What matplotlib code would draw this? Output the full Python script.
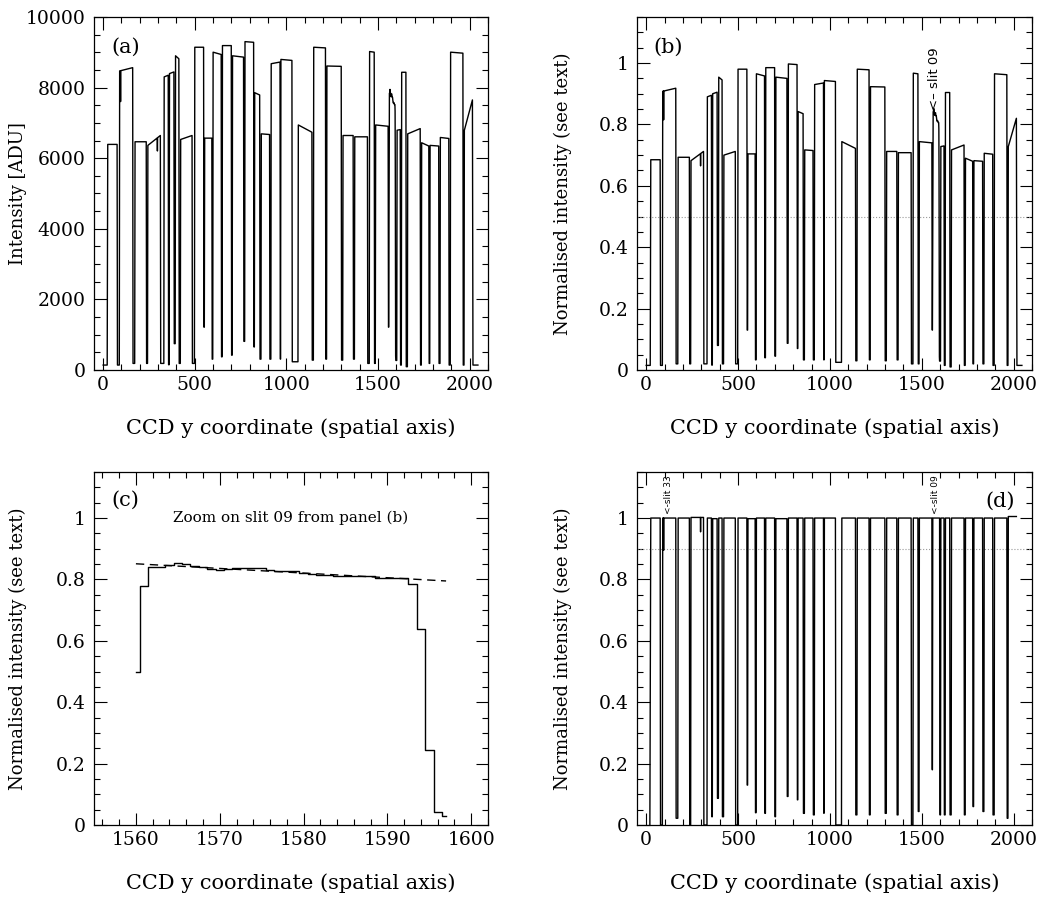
import matplotlib as mpl
mpl.use('Agg')
import numpy as np
import matplotlib.pyplot as plt
from matplotlib.ticker import MultipleLocator, FuncFormatter

plt.rcParams['font.family'] = 'DejaVu Serif'
plt.rcParams['axes.linewidth'] = 0.9

# slit plateaus along the CCD y axis: pixel edges and normalised levels
slit_lo = [25, 90, 174, 244, 333, 362, 395, 423, 500, 554, 600, 651, 706, 774, 827, 863, 917,
           970, 1065, 1149, 1221, 1309, 1373, 1454, 1487, 1560, 1604, 1629, 1662, 1738, 1784,
           1840, 1896, 1971]
slit_hi = [76, 161, 235, 312, 355, 386, 413, 485, 548, 593, 644, 699, 766, 821, 854, 908, 965,
           1030, 1139, 1213, 1299, 1364, 1442, 1479, 1555, 1597, 1621, 1652, 1730, 1777, 1831,
           1886, 1963, 2015]
level_start = [0.685, 0.908, 0.693, 0.682, 0.890, 0.900, 0.954, 0.700, 0.980, 0.704, 0.965,
               0.985, 0.954, 0.997, 0.842, 0.717, 0.930, 0.943, 0.744, 0.980, 0.923, 0.712,
               0.708, 0.967, 0.744, 0.850, 0.728, 0.904, 0.717, 0.690, 0.682, 0.706, 0.965, 0.728]
level_end = [0.685, 0.918, 0.693, 0.712, 0.895, 0.905, 0.945, 0.712, 0.980, 0.704, 0.958,
             0.985, 0.950, 0.995, 0.835, 0.715, 0.935, 0.940, 0.722, 0.978, 0.922, 0.712,
             0.708, 0.965, 0.740, 0.806, 0.730, 0.904, 0.733, 0.680, 0.680, 0.703, 0.962, 0.820]
# flat-fielded plateau levels
level_flat = [1.000, 1.000, 1.000, 1.002, 1.000, 0.998, 1.000, 1.000, 1.000, 0.998, 1.000,
              1.000, 0.998, 1.000, 1.000, 1.000, 1.000, 1.000, 1.000, 1.000, 1.000, 1.000,
              1.000, 1.000, 1.000, 1.000, 1.000, 1.000, 1.000, 1.000, 1.000, 1.000, 1.000, 1.005]

# minimum reached in the gap following each slit
gap_raw = [0.015, 0.020, 0.020, 0.020, 0.016, 0.080, 0.020, 0.020, 0.130, 0.033, 0.040,
           0.045, 0.087, 0.070, 0.033, 0.033, 0.033, 0.025, 0.030, 0.033, 0.030, 0.033,
           0.020, 0.020, 0.130, 0.029, 0.015, 0.010, 0.015, 0.020, 0.020, 0.015, 0.015]
gap_flat = [0.000, 0.022, 0.000, 0.000, 0.027, 0.087, 0.027, 0.000, 0.130, 0.040, 0.038,
            0.027, 0.093, 0.082, 0.038, 0.033, 0.038, 0.000, 0.033, 0.033, 0.038, 0.033,
            0.000, 0.044, 0.180, 0.033, 0.033, 0.033, 0.033, 0.060, 0.044, 0.033, 0.022]

# narrow dips inside a slit
spike_x = [95, 296]
spike_raw = [0.815, 0.665]
spike_flat = [0.895, 0.955]

edge_raw = 0.015     # level outside the mask
norm_adu = 9330.0    # ADU corresponding to normalised intensity 1

# slit 09 profile, pixel by pixel
slit09 = 25
s09_pix = list(range(1560, 1598))
s09_val = [0.497, 0.780, 0.840, 0.840, 0.847, 0.852, 0.849, 0.843, 0.840, 0.835, 0.830,
           0.835, 0.838, 0.838, 0.838, 0.838, 0.832, 0.828, 0.828, 0.828, 0.822, 0.817,
           0.813, 0.813, 0.810, 0.810, 0.811, 0.811, 0.811, 0.806, 0.806, 0.806, 0.806,
           0.786, 0.637, 0.244, 0.043, 0.029]
fit_pix = [1560, 1597]
fit_val = [0.851, 0.795]


def make_trace(lev0, lev1, gaps, spikes, head, tail, with_profile):
    xs, ys = list(head[0]), list(head[1])
    n = len(slit_lo)
    for k in range(n):
        if with_profile and k == slit09:
            xs += s09_pix
            ys += s09_val
        else:
            xs += [slit_lo[k], slit_hi[k]]
            ys += [lev0[k], lev1[k]]
        if k < n - 1:
            xs += [slit_hi[k] + 2, slit_lo[k + 1] - 2]
            ys += [gaps[k], gaps[k]]
    xs += list(tail[0])
    ys += list(tail[1])
    xs = np.array(xs, float)
    ys = np.array(ys, float)
    for sx, sv in zip(spike_x, spikes):
        i = np.searchsorted(xs, sx)
        base = np.interp([sx - 1, sx + 1], xs, ys)
        xs = np.insert(xs, i, [sx - 1, sx, sx + 1])
        ys = np.insert(ys, i, [base[0], sv, base[1]])
    return xs, ys


x_raw, y_raw = make_trace(level_start, level_end, gap_raw, spike_raw,
                          ([0, 22], [edge_raw, edge_raw]), ([2018, 2045], [edge_raw, edge_raw]), True)
x_flat, y_flat = make_trace(level_flat, level_flat, gap_flat, spike_flat,
                            ([20], [0.0]), ([], []), False)

gfmt = FuncFormatter(lambda v, p: '%g' % round(v, 6))


def pg_axes(ax, xmaj, xmin, ymaj, ymin):
    ax.xaxis.set_major_locator(MultipleLocator(xmaj))
    ax.xaxis.set_minor_locator(MultipleLocator(xmin))
    ax.yaxis.set_major_locator(MultipleLocator(ymaj))
    ax.yaxis.set_minor_locator(MultipleLocator(ymin))
    ax.yaxis.set_major_formatter(gfmt)
    ax.tick_params(which='both', direction='in', top=True, right=True, labelsize=13.5, width=0.8)
    ax.tick_params(which='major', length=9)
    ax.tick_params(which='minor', length=4.5)
    ax.tick_params(axis='x', pad=4)
    ax.tick_params(axis='y', pad=6)
    ax.set_xlabel('CCD y coordinate (spatial axis)', fontsize=15, labelpad=18)


W, H = 1047.0, 900.0
fig = plt.figure(figsize=(10.47, 9), dpi=100)
ax_a = fig.add_axes([94 / W, 1 - 370 / H, 394 / W, 353 / H])
ax_b = fig.add_axes([637 / W, 1 - 370 / H, 395 / W, 353 / H])
ax_c = fig.add_axes([94 / W, 1 - 825 / H, 394 / W, 353 / H])
ax_d = fig.add_axes([637 / W, 1 - 825 / H, 395 / W, 353 / H])

# (a) raw flat-field profile
ax_a.plot(x_raw, y_raw * norm_adu, color='k', lw=1.0)
ax_a.set_xlim(-50, 2100)
ax_a.set_ylim(0, 10000)
pg_axes(ax_a, 500, 100, 2000, 500)
ax_a.set_ylabel('Intensity [ADU]', fontsize=13)
ax_a.yaxis.set_label_coords(-0.17, 0.5)
ax_a.text(0.045, 0.915, '(a)', transform=ax_a.transAxes, fontsize=15, va='center', ha='left')

# (b) normalised profile
ax_b.axhline(0.5, color='0.6', ls=':', lw=0.8)
ax_b.plot(x_raw, y_raw, color='k', lw=1.0)
ax_b.set_xlim(-50, 2100)
ax_b.set_ylim(0, 1.15)
pg_axes(ax_b, 500, 100, 0.2, 0.05)
ax_b.set_ylabel('Normalised intensity (see text)', fontsize=13)
ax_b.yaxis.set_label_coords(-0.165, 0.5)
ax_b.text(0.041, 0.915, '(b)', transform=ax_b.transAxes, fontsize=15, va='center', ha='left')
ax_b.text(1567, 0.848, '<\u2013 slit 09', rotation=90, ha='center', va='bottom',
          fontsize=9.5, family='DejaVu Sans')

# (c) zoom on slit 09
ax_c.step(s09_pix, s09_val, where='mid', color='k', lw=1.0)
ax_c.plot(fit_pix, fit_val, color='k', lw=1.0, ls=(0, (6, 4)))
ax_c.set_xlim(1555, 1602)
ax_c.set_ylim(0, 1.15)
pg_axes(ax_c, 10, 2, 0.2, 0.05)
ax_c.set_ylabel('Normalised intensity (see text)', fontsize=13)
ax_c.yaxis.set_label_coords(-0.17, 0.5)
ax_c.text(0.045, 0.92, '(c)', transform=ax_c.transAxes, fontsize=15, va='center', ha='left')
ax_c.text(1578.5, 1.0, 'Zoom on slit 09 from panel (b)', ha='center', va='center', fontsize=11)

# (d) flat-fielded profile
ax_d.axhline(0.9, color='0.6', ls=':', lw=0.8)
ax_d.plot(x_flat, y_flat, color='k', lw=1.0)
ax_d.set_xlim(-50, 2100)
ax_d.set_ylim(0, 1.15)
pg_axes(ax_d, 500, 100, 0.2, 0.05)
ax_d.set_ylabel('Normalised intensity (see text)', fontsize=13)
ax_d.yaxis.set_label_coords(-0.165, 0.5)
ax_d.text(0.957, 0.916, '(d)', transform=ax_d.transAxes, fontsize=15, va='center', ha='right')
for sx, name in zip([120, 1573], ['<-slit 33', '<-slit 09']):
    ax_d.text(sx, 1.012, name, rotation=90, ha='center', va='bottom',
              fontsize=6.5, family='DejaVu Sans')

fig.savefig('out.png', dpi=100)
plt.close(fig)
